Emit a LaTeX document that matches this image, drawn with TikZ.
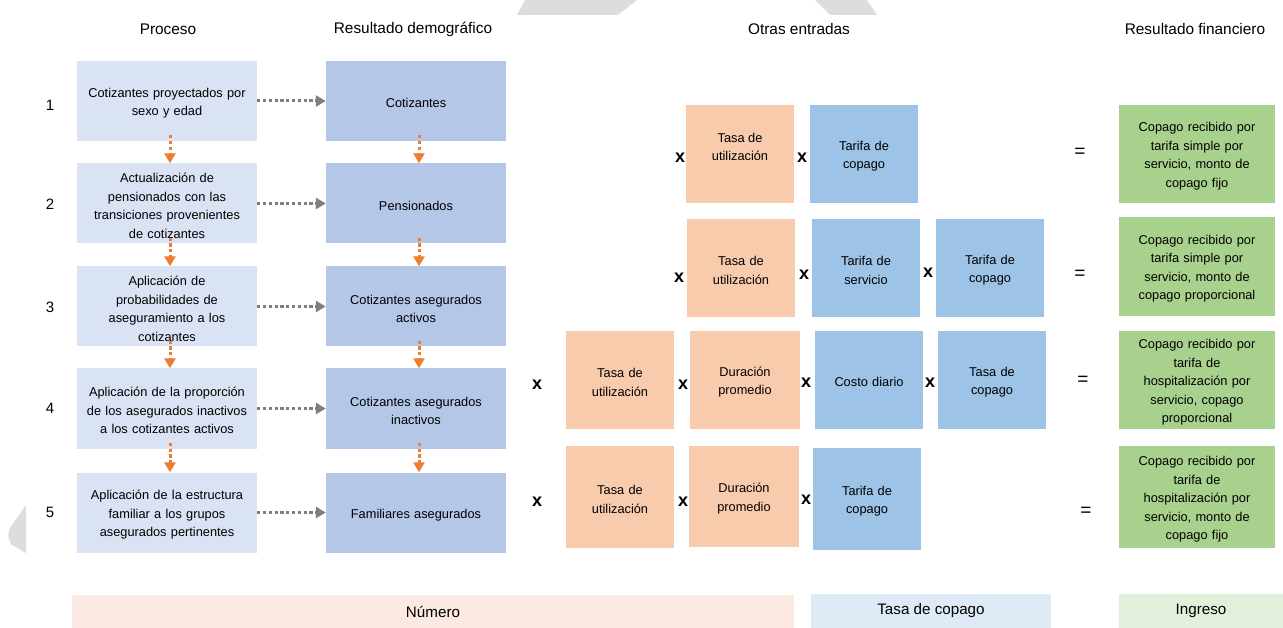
\documentclass[tikz,border=0pt]{standalone}
\usepackage{fontspec}
\setmainfont{Liberation Sans}
\usetikzlibrary{arrows.meta}
\definecolor{procfill}{HTML}{DAE3F3}
\definecolor{demfill}{HTML}{B4C7E7}
\definecolor{orfill}{HTML}{F8CBAD}
\definecolor{blfill}{HTML}{9DC3E6}
\definecolor{grfill}{HTML}{A9D18E}
\definecolor{legor}{HTML}{FCE9E1}
\definecolor{legbl}{HTML}{DEEBF7}
\definecolor{leggr}{HTML}{E2EFDA}
\definecolor{arrgray}{HTML}{7F7F7F}
\definecolor{arror}{HTML}{ED7D31}
\definecolor{wmark}{HTML}{DDDDDD}
\tikzset{
  boxbase/.style={draw=none, inner sep=2pt, align=center, font=\fontsize{12.8}{18.5}\selectfont,
    execute at begin node={\rule{0pt}{14pt}}},
  procbox/.style={boxbase, fill=procfill, minimum width=180pt, minimum height=80pt, text width=174pt},
  dembox/.style={boxbase, fill=demfill, minimum width=180pt, minimum height=80pt, text width=174pt},
  orbox/.style={boxbase, fill=orfill, minimum width=108pt, minimum height=98pt, text width=104pt},
  blbox/.style={boxbase, fill=blfill, minimum width=108pt, minimum height=98pt, text width=104pt},
  grbox/.style={boxbase, fill=grfill, minimum width=156pt, minimum height=98pt, text width=152pt},
  boxtext/.style={inner sep=0pt, align=center, font=\fontsize{12.8}{18.5}\selectfont},
  header/.style={font=\fontsize{15.4}{18}\selectfont, inner sep=0pt},
  numlabel/.style={font=\fontsize{15}{18}\selectfont, inner sep=0pt},
  opx/.style={font=\fontsize{18}{20}\selectfont\bfseries, inner sep=0pt},
  opeq/.style={font=\fontsize{19}{20}\selectfont, inner sep=0pt},
  legbar/.style={draw=none, inner sep=0pt, font=\fontsize{15.2}{18}\selectfont},
  garrow/.style={draw=arrgray, line width=3pt, dash pattern=on 3.2pt off 2.6pt, -{Triangle[length=10pt,width=11pt]}},
  oarrow/.style={draw=arror, line width=3pt, dash pattern=on 3.2pt off 2.6pt, -{Triangle[length=10pt,width=11pt]}}
}
\begin{document}
\begin{tikzpicture}[x=1pt,y=-1pt]
\useasboundingbox (0,0) rectangle (1283,628);
% watermark shapes
\fill[wmark] (525,0) -- (637,0) -- (618,15) -- (517,15) -- cycle;
\fill[wmark] (815,0) -- (867,0) -- (877,15) -- (830,15) -- cycle;
\fill[wmark] (26,505) -- (12,525) .. controls (7,532) and (7,538) .. (12,545) -- (26,553) -- cycle;

% headers
\node[header] (h1) at (168,29) {Proceso};
\node[header] (h2) at (413,29) {Resultado demográfico};
\node[header] (h3) at (799,29) {Otras entradas};
\node[header] (h4) at (1195,29) {Resultado financiero};

% numbers
\node[numlabel] (n1) at (50,105) {1};
\node[numlabel] (n2) at (50,204) {2};
\node[numlabel] (n3) at (50,307) {3};
\node[numlabel] (n4) at (50,408) {4};
\node[numlabel] (n5) at (50,512) {5};

% process boxes
\node[procbox] (p1) at (167,101) {Cotizantes proyectados por\\sexo y edad};
\node[procbox] (p2) at (167,203.5) {Actualización de\\pensionados con las\\transiciones provenientes\\de cotizantes};
\node[procbox] (p3) at (167,306.5) {Aplicación de\\probabilidades de\\aseguramiento a los\\cotizantes};
\node[procbox] (p4) at (167,408.5) {Aplicación de la proporción\\de los asegurados inactivos\\a los cotizantes activos};
\node[procbox] (p5) at (167,512.5) {Aplicación de la estructura\\familiar a los grupos\\asegurados pertinentes};

% demographic boxes
\node[dembox] (d1) at (416,101) {Cotizantes};
\node[dembox] (d2) at (416,203.5) {Pensionados};
\node[dembox] (d3) at (416,306.5) {Cotizantes asegurados\\activos};
\node[dembox] (d4) at (416,408.5) {Cotizantes asegurados\\inactivos};
\node[dembox] (d5) at (416,512.5) {Familiares asegurados};

% gray arrows
\foreach \i in {1,...,5} {
  \draw[garrow] (p\i.east) -- (d\i.west);
}
% orange arrows
\foreach \i/\j in {1/2,2/3,3/4,4/5} {
  \draw[oarrow] ([xshift=3pt,yshift=6pt]p\i.south) -- ([xshift=3pt]p\j.north);
  \draw[oarrow] ([xshift=3pt,yshift=6pt]d\i.south) -- ([xshift=3pt]d\j.north);
}

% row 1
\node[opx] (x1a) at (680,158) {x};
\node[orbox] (o1a) at (740,154) {};
\node[boxtext] (t1a) at (740,147) {Tasa de\\utilización};
\node[opx] (x1b) at (802,158) {x};
\node[blbox] (b1a) at (864,154) {Tarifa de\\copago};
\node[opeq] (e1) at (1080,153) {=};
\node[grbox] (g1) at (1197,154) {Copago recibido por\\tarifa simple por\\servicio, monto de\\copago fijo};

% row 2
\node[opx] (x2a) at (679,278) {x};
\node[orbox] (o2a) at (741,268) {Tasa de\\utilización};
\node[opx] (x2b) at (804,275) {x};
\node[blbox] (b2a) at (866,268) {Tarifa de\\servicio};
\node[opx] (x2c) at (928,273) {x};
\node[blbox] (b2b) at (990,268) {Tarifa de\\copago};
\node[opeq] (e2) at (1080,275) {=};
\node[grbox, minimum height=99pt] (g2) at (1197,266.5) {Copago recibido por\\tarifa simple por\\servicio, monto de\\copago proporcional};

% row 3
\node[opx] (x3a) at (537,385) {x};
\node[orbox] (o3a) at (620,380) {Tasa de\\utilización};
\node[opx] (x3b) at (683,385) {x};
\node[orbox, minimum width=110pt] (o3b) at (745,380) {Duración\\promedio};
\node[opx] (x3c) at (806,383) {x};
\node[blbox] (b3a) at (869,380) {Costo diario};
\node[opx] (x3d) at (930,383) {x};
\node[blbox] (b3b) at (992,380) {Tasa de\\copago};
\node[opeq] (e3) at (1083,381) {=};
\node[grbox] (g3) at (1197,380) {Copago recibido por\\tarifa de\\hospitalización por\\servicio, copago\\proporcional};

% row 4
\node[opx] (x4a) at (537,502) {x};
\node[orbox, minimum height=102pt] (o4a) at (620,497) {Tasa de\\utilización};
\node[opx] (x4b) at (683,502) {x};
\node[orbox, minimum width=110pt, minimum height=101pt] (o4b) at (744,496.5) {Duración\\promedio};
\node[opx] (x4c) at (806,500) {x};
\node[blbox, minimum height=102pt] (b4a) at (867,499) {Tarifa de\\copago};
\node[opeq] (e4) at (1086,512) {=};
\node[grbox, minimum height=102pt] (g4) at (1197,497) {Copago recibido por\\tarifa de\\hospitalización por\\servicio, monto de\\copago fijo};

% legend bars
\node[legbar, fill=legor, minimum width=722pt, minimum height=34pt] (l1) at (433,612) {Número};
\node[legbar, fill=legbl, minimum width=240pt, minimum height=34pt] (l2) at (931,611) {Tasa de copago};
\node[legbar, fill=leggr, minimum width=164pt, minimum height=34pt] (l3) at (1201,611) {Ingreso};
\end{tikzpicture}
\end{document}
